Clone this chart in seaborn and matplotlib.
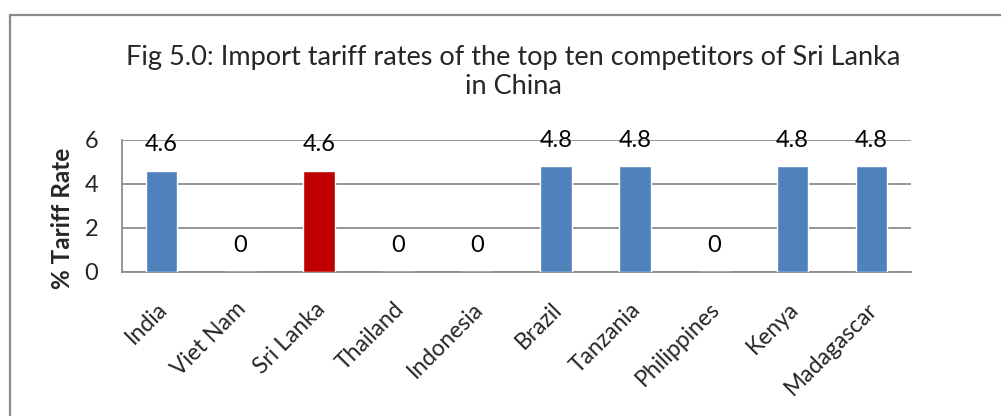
import matplotlib
matplotlib.use("Agg")
import matplotlib.pyplot as plt
import matplotlib.transforms as mtransforms
from matplotlib.lines import Line2D
import seaborn as sns
import pandas as pd

countries = ["India", "Viet Nam", "Sri Lanka", "Thailand", "Indonesia",
             "Brazil", "Tanzania", "Philippines", "Kenya", "Madagascar"]
tariff = [4.6, 0, 4.6, 0, 0, 4.8, 4.8, 0, 4.8, 4.8]
highlight = "Sri Lanka"

title = "Fig 5.0: Import tariff rates of the top ten competitors of Sri Lanka\nin China"
ylabel = "% Tariff Rate"
yticks = [0, 2, 4, 6]

BLUE = "#4F81BD"
RED = "#C00000"
GRID = "#8C8C8C"

sns.set_theme(style="white")
plt.rcParams["font.family"] = ["Lato", "DejaVu Sans"]

df = pd.DataFrame({"country": countries, "tariff": tariff})
palette = {c: (RED if c == highlight else BLUE) for c in countries}

fig = plt.figure(figsize=(10.01, 4.16), dpi=100)
ax = fig.add_axes([122 / 1001, 1 - 272 / 416, (911 - 122) / 1001, 132 / 416])

sns.barplot(data=df, x="country", y="tariff", hue="country", palette=palette,
            width=0.4, legend=False, ax=ax, saturation=1, zorder=3)

ax.set_xlim(-0.5, len(countries) - 0.5)
ax.set_ylim(0, 6)
ax.set_yticks(yticks)
ax.yaxis.grid(True, color=GRID, linewidth=1.3, zorder=0)
ax.set_axisbelow(True)

for s in ["top", "right"]:
    ax.spines[s].set_visible(False)
for s in ["left", "bottom"]:
    ax.spines[s].set_color(GRID)
    ax.spines[s].set_linewidth(1.3)

# category labels at the centres, tick marks on the category boundaries
ax.set_xticks(range(len(countries)))
ax.set_xticklabels(countries, rotation=45, ha="right", rotation_mode="anchor",
                   fontsize=16.5)
ax.tick_params(axis="x", length=0, pad=19)
shift = mtransforms.ScaledTranslation(-5 / 100, 0, fig.dpi_scale_trans)
for lbl in ax.get_xticklabels():
    lbl.set_transform(lbl.get_transform() + shift)
ax.set_xticks([i - 0.5 for i in range(len(countries) + 1)], minor=True)
ax.tick_params(axis="x", which="minor", length=7, width=1.3, color=GRID,
               direction="out")
ax.tick_params(axis="y", length=7, width=1.3, color=GRID, direction="out",
               labelsize=17, pad=10)

ax.set_xlabel("")
ax.set_ylabel(ylabel, fontsize=17.5, fontweight="bold")
ax.yaxis.set_label_coords(-0.061, 0.41)

# value labels above each bar
for i, v in enumerate(tariff):
    ax.annotate(f"{v:g}", xy=(i, v), xytext=(0, 19), textcoords="offset points",
                ha="center", va="center", fontsize=17, color="black",
                annotation_clip=False, zorder=5)

fig.text(513 / 1001, 1 - 72 / 416, title, ha="center", va="center",
         fontsize=19.5, linespacing=1.25)

# chart-area frame: left and top edges
fig.add_artist(Line2D([10 / 1001, 10 / 1001], [0, 1 - 15 / 416],
                      transform=fig.transFigure, color="#8A8A8A", lw=1.6))
fig.add_artist(Line2D([10 / 1001, 1], [1 - 15 / 416, 1 - 15 / 416],
                      transform=fig.transFigure, color="#8A8A8A", lw=1.6))

fig.savefig("out.png", dpi=100)
